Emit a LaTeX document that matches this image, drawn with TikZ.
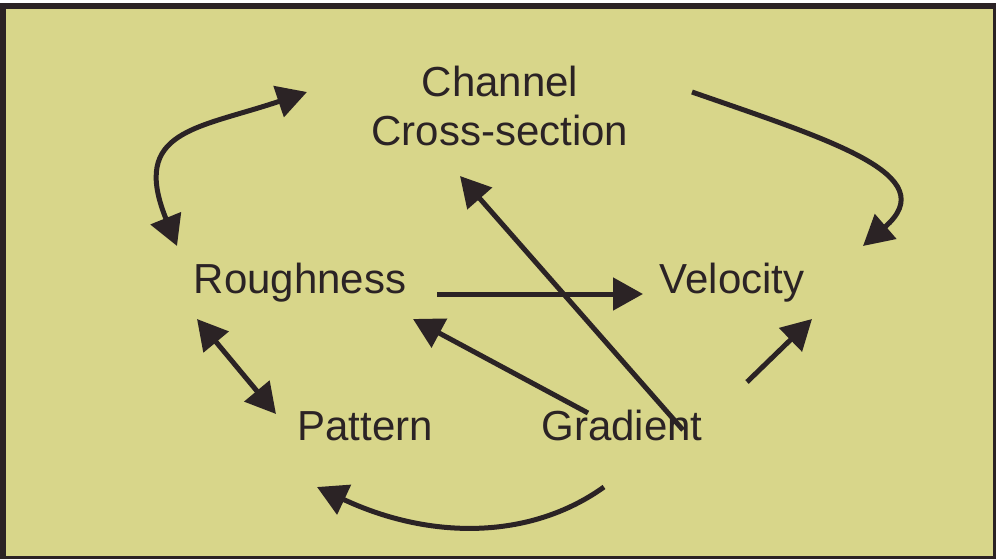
\documentclass[tikz,border=0pt]{standalone}
\usepackage{fontspec}
\setmainfont{Liberation Sans}
\usepackage{xcolor}
\usetikzlibrary{arrows.meta}
\definecolor{panel}{HTML}{D8D68A}
\definecolor{ink}{HTML}{2B2325}
\tikzset{
    lbl/.style={text=ink, inner sep=0pt, font=\fontsize{42}{49}\selectfont, anchor=base},
    arr/.style={-{Triangle[length=30pt, width=32pt]}, line width=5pt, draw=ink},
    darr/.style={{Triangle[length=30pt, width=32pt]}-{Triangle[length=30pt, width=32pt]}, line width=5pt, draw=ink},
}

\begin{document}
\begin{tikzpicture}[x=1pt, y=-1pt]
    \useasboundingbox (0,0) rectangle (996,559);
    \draw[line width=6pt, draw=ink, fill=panel] (3,6) rectangle (996,559);
    \node[lbl, anchor=center, align=center] (chan) at (500,106) {Channel\\Cross-section};
    \node[lbl] (rough) at (300,293) {Roughness};
    \node[lbl] (velo) at (732,293) {Velocity};
    \node[lbl] (patt) at (365,440) {Pattern};
    \node[lbl] (grad) at (622,440) {Gradient};
    \draw[darr] ([shift={(-193,-14)}]chan.center) .. controls (197,129) and (130,130) .. ([shift={(-123,-47)}]rough.base);
    \draw[arr] ([shift={(192,-14)}]chan.center) .. controls (830,140) and (945,175) .. ([shift={(131,-47)}]velo.base);
    \draw[arr] ([shift={(137,1)}]rough.base) -- ([shift={(-89,1)}]velo.base);
    \draw[arr] ([shift={(61,-10)}]grad.base) -- ([shift={(-40,70)}]chan.center);
    \draw[arr] ([shift={(-34,-27)}]grad.base) -- ([shift={(113,26)}]rough.base);
    \draw[darr] ([shift={(-103,26)}]rough.base) -- ([shift={(-89,-26)}]patt.base);
    \draw[arr] ([shift={(125,-58)}]grad.base) -- ([shift={(80,26)}]velo.base);
    \draw[arr] ([shift={(-18,47)}]grad.base) .. controls (530,540) and (430,540) .. ([shift={(-48,47)}]patt.base);
\end{tikzpicture}
\end{document}
